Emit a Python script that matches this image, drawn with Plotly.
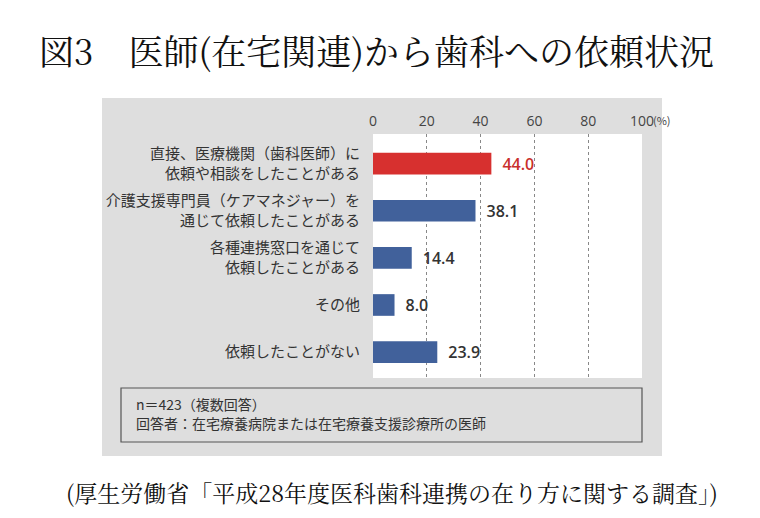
import plotly.graph_objects as go

categories = [
    "直接、医療機関（歯科医師）に<br>依頼や相談をしたことがある",
    "介護支援専門員（ケアマネジャー）を<br>通じて依頼したことがある",
    "各種連携窓口を通じて<br>依頼したことがある",
    "その他",
    "依頼したことがない",
]
values = [44.0, 38.1, 14.4, 8.0, 23.9]
bar_colors = ["#d7302f", "#41619b", "#41619b", "#41619b", "#41619b"]
label_colors = ["#c9302c", "#333333", "#333333", "#333333", "#333333"]
tick_vals = [0, 20, 40, 60, 80, 100]
tick_text = ["0", "20", "40", "60", "80", "100"]

title_text = "図3　医師(在宅関連)から歯科への依頼状況"
note_lines = ["n＝423（複数回答）", "回答者：在宅療養病院または在宅療養支援診療所の医師"]
source_text = "(厚生労働省「平成28年度医科歯科連携の在り方に関する調査」)"

W, H = 760, 518
OFF = 8  # page body margin of the browser
L, R, T, B = 373 - OFF, 642 - OFF, 134 - OFF, 378 - OFF
pw, ph = R - L, B - T

def px(x):
    return (x - OFF - L) / pw

def py(y):
    return (B - (y - OFF)) / ph

JP = "Noto Sans CJK JP, Noto Sans, sans-serif"
SERIF = "Noto Serif CJK JP, Noto Serif JP, Noto Sans CJK JP, serif"

fig = go.Figure(go.Bar(
    x=values,
    y=list(range(len(categories))),
    orientation="h",
    marker=dict(color=bar_colors, line=dict(width=0)),
    width=0.46,
    text=["\u2002" + f"{v:.1f}" for v in values],
    textposition="outside",
    textfont=dict(family="Open Sans, Noto Sans, sans-serif", size=17, color=label_colors, weight=600),
    cliponaxis=False,
    hoverinfo="skip",
))

shapes = [
    dict(type="rect", xref="paper", yref="paper", x0=px(102), x1=px(662), y0=py(456), y1=py(98),
         fillcolor="#dedede", line=dict(width=0), layer="below"),
    dict(type="rect", xref="paper", yref="paper", x0=0, x1=1, y0=0, y1=1,
         fillcolor="#ffffff", line=dict(width=0), layer="below"),
    dict(type="rect", xref="paper", yref="paper", x0=px(121), x1=px(642), y0=py(442), y1=py(388),
         fillcolor="rgba(0,0,0,0)", line=dict(width=1.2, color="#555555"), layer="above"),
]

annotations = [
    dict(text=title_text, xref="paper", yref="paper", x=px(376), y=py(50), showarrow=False,
         xanchor="center", yanchor="middle", font=dict(family=SERIF, size=35, color="#111111")),
    dict(text=source_text, xref="paper", yref="paper", x=px(392), y=py(492), showarrow=False,
         xanchor="center", yanchor="middle", font=dict(family=SERIF, size=23, color="#111111")),
    dict(text=note_lines[0], xref="paper", yref="paper", x=px(134), y=py(404), showarrow=False,
         xanchor="left", yanchor="middle", font=dict(family=JP, size=14, color="#333333")),
    dict(text=note_lines[1], xref="paper", yref="paper", x=px(134), y=py(423), showarrow=False,
         xanchor="left", yanchor="middle", font=dict(family=JP, size=14, color="#333333")),
    dict(text="(%)", xref="paper", yref="paper", x=px(651), y=py(120), showarrow=False,
         xanchor="left", yanchor="middle", font=dict(family=JP, size=11, color="#444444")),
]

fig.update_layout(
    width=W, height=H,
    margin=dict(l=L, r=W - R, t=T, b=H - B, pad=0, autoexpand=False),
    paper_bgcolor="#ffffff",
    plot_bgcolor="rgba(0,0,0,0)",
    showlegend=False,
    shapes=shapes,
    annotations=annotations,
    xaxis=dict(
        side="top", range=[0, 100], tickvals=tick_vals, ticktext=tick_text,
        showgrid=True, gridcolor="#888888", griddash="dot", gridwidth=1,
        zeroline=False, showline=False, ticks="", ticklabelstandoff=4,
        tickfont=dict(family="Open Sans, Noto Sans, sans-serif", size=14, color="#444444"),
        fixedrange=True, automargin=False,
    ),
    yaxis=dict(
        range=[4.55, -0.63], tickvals=list(range(len(categories))), ticktext=categories,
        showgrid=False, zeroline=False, showline=False, ticks="", ticklabelstandoff=12,
        tickfont=dict(family=JP, size=15, color="#333333"),
        fixedrange=True, automargin=False,
    ),
)

fig.write_html("out.html")
